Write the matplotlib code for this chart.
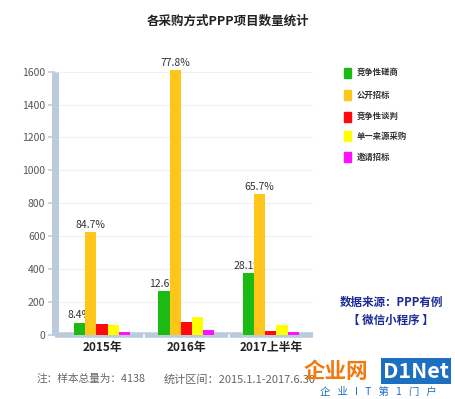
import numpy as np
import matplotlib.pyplot as plt
from matplotlib.patches import Rectangle

plt.rcParams['font.family'] = ['Noto Sans CJK SC', 'DejaVu Sans']

years = ["2015年", "2016年", "2017上半年"]
methods = ["竞争性磋商", "公开招标", "竞争性谈判", "单一来源采购", "邀请招标"]
colors = ["#1cbb14", "#ffc619", "#ff0a0a", "#ffff00", "#ff10ff"]
counts = {
    "竞争性磋商": [75, 266, 375],
    "公开招标": [624, 1612, 855],
    "竞争性谈判": [67, 77, 22],
    "单一来源采购": [59, 109, 61],
    "邀请招标": [18, 32, 20],
}
green_labels = ["8.4%", "12.6%", "28.1%"]
orange_labels = ["84.7%", "77.8%", "65.7%"]
yticks = [0, 200, 400, 600, 800, 1000, 1200, 1400, 1600]

fig = plt.figure(figsize=(4.56, 3.99), dpi=100)
ax = fig.add_axes([0.1206, 0.1604, 0.566, 0.66])

x = np.arange(len(years))
w = 0.133
for i, m in enumerate(methods):
    ax.bar(x + (i - 2) * w, counts[m], width=w, color=colors[i], label=m,
           zorder=3, clip_on=False)

# percentage labels (green ones partly hidden behind the orange bars)
for j in range(len(years)):
    ax.text(x[j] - 2 * w, counts["竞争性磋商"][j] + 15, green_labels[j],
            ha="center", va="bottom", fontsize=7.5, color="#333333", zorder=2)
    ax.text(x[j] - w, counts["公开招标"][j] + 12, orange_labels[j],
            ha="center", va="bottom", fontsize=7.5, color="#333333", zorder=4)

ax.set_xlim(-0.556, 2.5)
ax.set_ylim(0, 1600)
ax.set_yticks(yticks)
ax.set_yticklabels([str(v) for v in yticks], fontsize=7.5, color="#555555")
ax.set_xticks(x)
ax.set_xticklabels(years, fontsize=8.5, fontweight="bold", color="#222222")
ax.tick_params(axis="y", length=5, width=1.2, color="#c0cfdd", pad=2)
ax.tick_params(axis="x", length=0, pad=4)
ax.grid(axis="y", color="#f0f0f0", linewidth=0.8, zorder=0)
for s in ["top", "right"]:
    ax.spines[s].set_visible(False)
ax.spines["left"].set_color("#bccbdb")
ax.spines["left"].set_linewidth(5)
ax.spines["left"].set_capstyle("butt")
ax.spines["bottom"].set_color("#bccbdb")
ax.spines["bottom"].set_linewidth(4)
ax.spines["bottom"].set_capstyle("butt")
# white gaps between categories in the base band
for b in [0.5, 1.5]:
    ax.axvline(b, ymin=-0.012, ymax=0.0, color="white", lw=1.2, clip_on=False, zorder=5)

fig.text(0.5, 0.948, "各采购方式PPP项目数量统计", ha="center", va="center",
         fontsize=9, fontweight="bold", color="#222222")

# legend
leg_y = [72.7, 95, 116.7, 136, 157.3]
for i, m in enumerate(methods):
    yy = 1 - leg_y[i] / 399
    fig.patches.append(Rectangle((344 / 456, yy - 5 / 399), 7 / 456, 10 / 399,
                                 transform=fig.transFigure, color=colors[i]))
    fig.text(357 / 456, yy, m, fontsize=6, fontweight="bold", color="#333333",
             va="center", ha="left")

fig.text(391 / 456, 1 - 302.7 / 399, "数据来源：PPP有例", ha="center", va="center",
         fontsize=8.3, fontweight="bold", color="#1c2b95")
fig.text(391 / 456, 1 - 320 / 399, "【 微信小程序 】", ha="center", va="center",
         fontsize=8.3, fontweight="bold", color="#1c2b95")

fig.text(37 / 456, 1 - 379 / 399, "注：样本总量为：4138",
         ha="left", va="center", fontsize=7.7, color="#666666")
fig.text(164 / 456, 1 - 379 / 399, "统计区间：2015.1.1-2017.6.30",
         ha="left", va="center", fontsize=8, color="#666666")

# watermark
fig.text(336 / 456, 1 - 371 / 399, "企业网", ha="center", va="center", fontsize=15.5,
         fontweight="bold", color="#f07a10")
fig.text(416 / 456, 1 - 371 / 399, "D1Net", ha="center", va="center", fontsize=15.5,
         fontweight="bold", color="white",
         bbox=dict(boxstyle="square,pad=0.1", fc="#1d6fc0", ec="none"))
fig.text(378 / 456, 1 - 392 / 399, "企   业   I   T   第   1   门   户", ha="center",
         va="center", fontsize=7.5, color="#1d6fc0")

fig.savefig("out.png", dpi=100)
